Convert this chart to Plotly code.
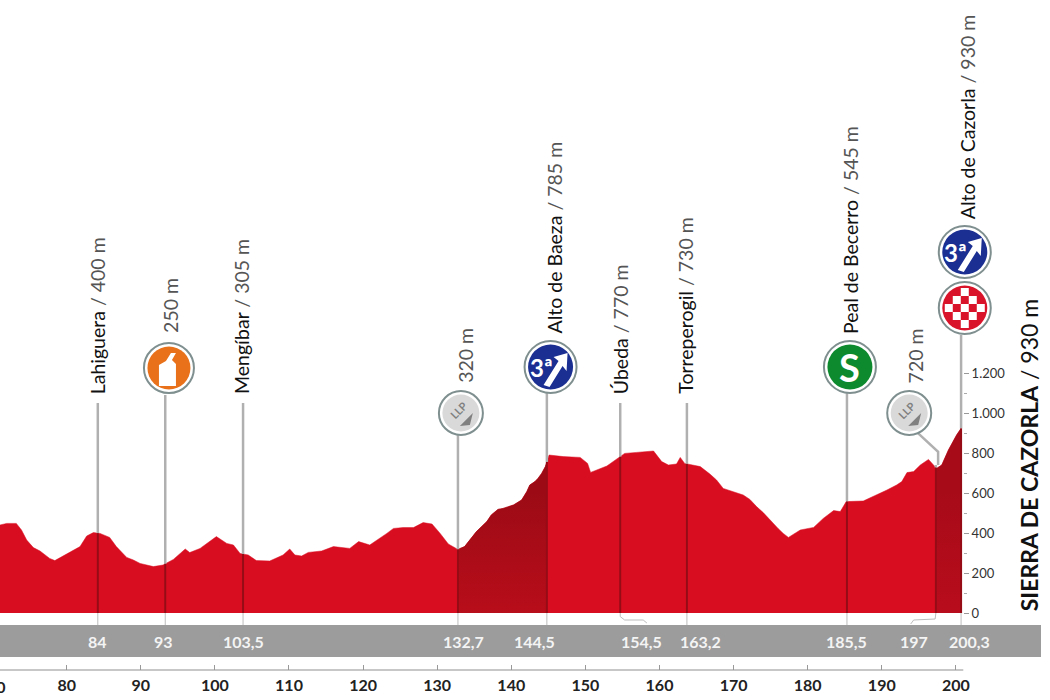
import numpy as np
import plotly.graph_objects as go

# perfil de la etapa: km / altitud
profile_km = [71.0, 71.9, 73.2, 73.9, 74.6, 75.5, 76.4, 76.8, 77.3, 77.7, 78.4, 80.0, 80.9, 81.8, 82.7, 83.6,
              84.5, 85.8, 86.7, 87.4, 88.1, 89.0, 89.9, 91.7, 93.0, 94.4, 96.0, 96.6, 98.0, 100.2, 101.6,
              102.5, 103.4, 104.5, 105.6, 107.4, 109.2, 110.1, 110.8, 111.7, 112.6, 114.4, 116.0, 118.2, 119.4,
              120.9, 122.3, 123.2, 124.1, 125.4, 126.8, 128.1, 129.3, 130.4, 131.5, 132.8, 133.7, 134.4, 135.3,
              136.0, 136.7, 137.3, 138.2, 138.9, 140.3, 141.4, 142.1, 142.5, 143.2, 143.6, 144.1, 144.6, 145.1,
              147.0, 149.3, 150.3, 150.7, 152.9, 154.4, 155.3, 156.9, 159.2, 160.3, 161.2, 162.3, 162.8, 163.4,
              165.5, 166.8, 167.7, 168.6, 170.0, 171.3, 172.2, 173.1, 174.0, 174.9, 176.0, 176.7, 177.4, 179.0,
              179.9, 180.8, 182.1, 183.5, 184.4, 185.2, 187.5, 189.3, 190.7, 192.0, 192.7, 193.4, 194.3, 195.2,
              196.3, 197.4, 198.1, 199.0, 200.1, 200.7]
profile_alt = [440, 448, 448, 415, 365, 327, 310, 298, 285, 273, 262, 295, 315, 332, 385, 402,
               398, 378, 332, 307, 278, 265, 248, 232, 240, 268, 320, 302, 323, 382, 348,
               340, 298, 290, 262, 260, 290, 320, 290, 285, 303, 310, 332, 323, 357,
               340, 373, 398, 423, 427, 427, 452, 445, 398, 345, 318, 332, 365, 407,
               432, 457, 490, 518, 523, 540, 565, 607, 640, 657, 673, 698, 732, 790,
               782, 778, 748, 703, 735, 773, 798, 803, 810, 757, 740, 745, 778, 748,
               732, 695, 665, 623, 606, 590, 568, 532, 502, 465, 423, 398, 378, 415,
               423, 428, 473, 512, 507, 557, 560, 590, 615, 640, 657, 702, 707, 740,
               768, 723, 740, 815, 890, 923]

# lineas verticales de cada punto de paso
line_km = [84.2, 93.3, 103.8, 132.8, 144.8, 154.7, 163.7, 185.3, 197.3, 200.7]
line_top = [1050, 1090, 1050, 890, 1100, 1050, 1050, 1100, 740, 1390]

# textos verticales
place_names = ["Lahiguera", "", "Mengíbar", "", "Alto de Baeza", "Úbeda", "Torreperogil", "Peal de Becerro", "",
               "Alto de Cazorla"]
place_alts = ["400 m", "250 m", "305 m", "320 m", "785 m", "770 m", "730 m", "545 m", "720 m", "930 m"]
place_km = [84.2, 94.0, 103.6, 133.8, 145.7, 154.7, 163.4, 185.7, 194.6, 201.6]
place_base = [1085, 1390, 1085, 1140, 1385, 1085, 1085, 1385, 1140, 1960]

# km en la banda gris
band_labels = ["84", "93", "103,5", "132,7", "144,5", "154,5", "163,2", "185,5", "197", "200,3"]
band_km = [84.2, 93.0, 103.8, 133.5, 143.1, 157.6, 165.6, 185.2, 194.4, 201.9]

# iconos
icon_km = [93.8, 133.2, 145.3, 185.7, 193.7, 201.2, 201.2]
icon_alt = [1225, 1000, 1230, 1230, 1000, 1525, 1805]
icon_fill = ["#e8711a", "#d9d9d9", "#1b2f92", "#0e8a2e", "#d9d9d9", "#d9142a", "#1b2f92"]
icon_size = [50, 44, 52, 52, 44, 52, 52]

km_ticks = [80, 90, 100, 110, 120, 130, 140, 150, 160, 170, 180, 190, 200]
alt_ticks = [0, 200, 400, 600, 800, 1000, 1200]
alt_tick_text = ["0", "200", "400", "600", "800", "1.000", "1.200"]
alt_minor = [100, 300, 500, 700, 900, 1100]

RED = "#d90d20"
GREY_LINE = "#b0b0b0"


def alt_at(km):
    return float(np.interp(km, profile_km, profile_alt))


def stretch(a, b):
    # tramo del perfil entre dos km, para sombrear los puertos
    km = np.array(profile_km)
    alt = np.array(profile_alt)
    keep = (km > a) & (km < b)
    return [a, *km[keep], b], [alt_at(a), *alt[keep], alt_at(b)]


fig = go.Figure()

# banda gris y eje inferior
fig.add_shape(type="rect", xref="paper", yref="y", x0=0, x1=1041 / 1050, y0=-220, y1=-60, fillcolor="#9c9c9c", line_width=0, layer="below")
fig.add_trace(go.Scatter(x=[71.0, 201.0], y=[-285, -285], mode="lines", line=dict(color="#b5b5b5", width=1.5)))

# perfil
fig.add_trace(go.Scatter(x=profile_km, y=profile_alt, mode="lines", fill="tozeroy", fillcolor=RED, line=dict(color=RED, width=0.5)))
for a, b, top, low in [(132.8, 144.8, "#9c0b15", "#b80d1a"), (197.3, 200.7, "#a80b18", "#b80c1c")]:
    sx, sy = stretch(a, b)
    fig.add_trace(go.Scatter(x=sx, y=sy, mode="lines", fill="tozeroy", line=dict(color=top, width=0.5),
                             fillgradient=dict(type="vertical", colorscale=[[0, low], [1, top]], start=0, stop=600)))

# lineas verticales
up_x, up_y, in_x, in_y, low_x, low_y = [], [], [], [], [], []
for km, top in zip(line_km, line_top):
    up_x += [km, km, None]
    up_y += [alt_at(km), top, None]
    in_x += [km, km, None]
    in_y += [0, alt_at(km), None]
    if km not in (154.7, 197.3):
        low_x += [km, km, None]
        low_y += [0, -60, None]
fig.add_trace(go.Scatter(x=up_x, y=up_y, mode="lines", line=dict(color=GREY_LINE, width=2.5)))
fig.add_trace(go.Scatter(x=in_x, y=in_y, mode="lines", line=dict(color="#960c16", width=2)))
fig.add_trace(go.Scatter(x=low_x, y=low_y, mode="lines", line=dict(color="#bdbdbd", width=1)))
# quiebros de las lineas bajo el perfil y hacia el icono de 720 m
fig.add_trace(go.Scatter(x=[154.7, 154.7, 155.3, 157.8, 158.3], y=[0, -18, -35, -35, -50], mode="lines", line=dict(color="#bdbdbd", width=1)))
fig.add_trace(go.Scatter(x=[197.3, 197.2, 194.3, 193.9], y=[0, -30, -35, -55], mode="lines", line=dict(color="#bdbdbd", width=1)))
fig.add_trace(go.Scatter(x=[194.7, 197.6, 197.6], y=[906, 806, 740], mode="lines", line=dict(color=GREY_LINE, width=2.5)))

# iconos
fig.add_trace(go.Scatter(x=icon_km, y=icon_alt, mode="markers", marker=dict(size=icon_size, color="white", opacity=1, line=dict(color="#7f8f8f", width=2))))
fig.add_trace(go.Scatter(x=icon_km, y=icon_alt, mode="markers", marker=dict(size=[s - 7 for s in icon_size], color=icon_fill, opacity=1, line=dict(width=0))))


def pixel_path(km, alt, path, fill="white"):
    fig.add_shape(type="path", xref="x", yref="y", xsizemode="pixel", ysizemode="pixel", xanchor=km, yanchor=alt,
                  path=path, fillcolor=fill, line_width=0)


# botella del avituallamiento
pixel_path(93.8, 1225, "M-10 -18 L7 -18 L7 4 L3 8 L7 15 L2 15 L-3 7 L-10 3 Z")
# flecha de los puertos
for km, alt in [(145.3, 1230), (201.2, 1805)]:
    pixel_path(km, alt, "M-7 -18 L-1 -20 L12 1 L16 -4 L17 14 L3 10 L8 6 Z")
# flecha de las metas volantes
for km, alt in [(133.2, 1000), (193.7, 1000)]:
    pixel_path(km, alt, "M-1 -13 L12 0 L9 -12 Z", fill="#808080")
# cuadros de meta
squares = ""
for i in range(-2, 3):
    for j in range(-2, 3):
        if (i + j) % 2 == 0 and np.hypot(i, j) < 2.5:
            squares += f"M{i * 8 - 4} {j * 8 - 4} L{i * 8 + 4} {j * 8 - 4} L{i * 8 + 4} {j * 8 + 4} L{i * 8 - 4} {j * 8 + 4} Z "
pixel_path(201.2, 1525, squares)

notes = []
for name, alt, km, base in zip(place_names, place_alts, place_km, place_base):
    text = f'<span style="color:#555555">{alt}</span>'
    if name:
        text = f'{name} <span style="color:#555555">/</span> ' + text
    notes.append(dict(x=km, y=base, text=text, textangle=-90, xanchor="center", yanchor="bottom", showarrow=False,
                      font=dict(family="Lato", size=19.5, color="#111111")))
for label, km in zip(band_labels, band_km):
    notes.append(dict(x=km, y=-140, text=f"<b>{label}</b>", showarrow=False, font=dict(family="Lato", size=16, color="#f4f4f4")))

notes.append(dict(x=145.0, y=1230, text="<b>3ª</b>", showarrow=False, xshift=-7, font=dict(family="Lato", size=24, color="white")))
notes.append(dict(x=200.9, y=1805, text="<b>3ª</b>", showarrow=False, xshift=-7, font=dict(family="Lato", size=24, color="white")))
notes.append(dict(x=185.7, y=1230, text="<b>S</b>", showarrow=False, font=dict(family="Lato", size=38, color="white")))
for km in [133.2, 193.7]:
    notes.append(dict(x=km, y=1000, text="<b>LLP</b>", textangle=-45, showarrow=False, xshift=-3, yshift=3, font=dict(family="Lato", size=11, color="#808080")))
# km 70 cortado por el borde izquierdo
notes.append(dict(x=71.0, y=-365, text="<b>70</b>", showarrow=False, xshift=-4, font=dict(family="Lato", size=16, color="#222222")))
notes.append(dict(x=209.9, y=0, text="<b>SIERRA DE CAZORLA</b> / 930 m", textangle=-90, xanchor="center", yanchor="bottom",
                  showarrow=False, font=dict(family="Lato", size=23, color="#111111")))

fig.update_layout(
    width=1050,
    height=700,
    autosize=False,
    margin=dict(l=0, r=0, t=0, b=0, pad=0),
    paper_bgcolor="white",
    plot_bgcolor="white",
    showlegend=False,
    hovermode=False,
    annotations=notes,
    xaxis=dict(range=[71.0, 71.0 + 1050 / 7.41], anchor="free", position=1 - 670 / 700, showgrid=False, zeroline=False,
               showline=False, tickvals=km_ticks, ticks="inside", ticklen=5, tickcolor="#999999", tickwidth=1,
               ticklabelstandoff=4, tickfont=dict(family="Lato", size=16, color="#222222", weight="bold")),
    yaxis=dict(range=[-435, 3065], anchor="free", position=963 / 1050, side="right", showgrid=False, zeroline=False,
               showline=False, tickvals=alt_ticks, ticktext=alt_tick_text, ticks="outside", ticklen=5, tickcolor="#999999",
               tickwidth=1, minor=dict(tickvals=alt_minor, ticks="outside", ticklen=3, tickcolor="#aaaaaa"),
               tickfont=dict(family="Lato", size=13, color="#333333")),
)

fig.write_html("out.html", config=dict(displayModeBar=False),
               post_script="document.body.style.margin='0';document.body.style.overflow='hidden';")
